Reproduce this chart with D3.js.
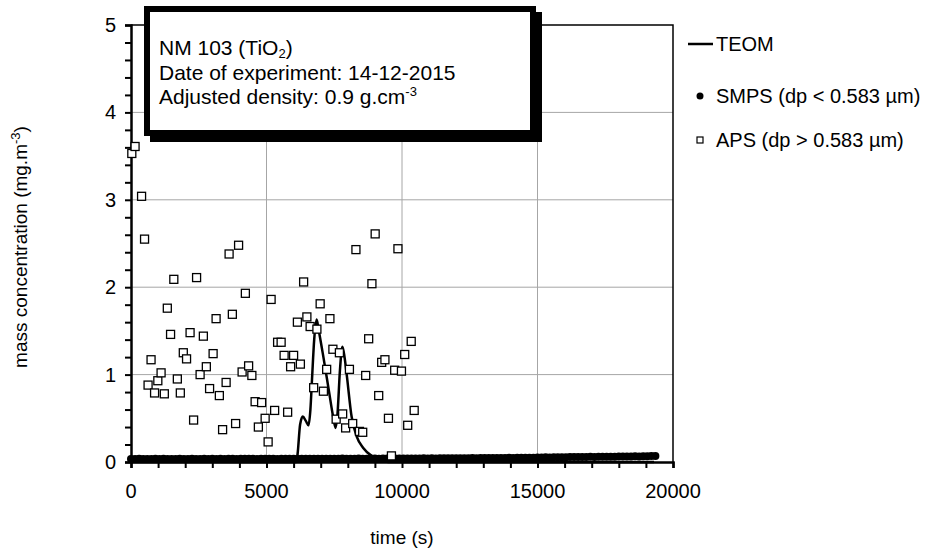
<!DOCTYPE html>
<html>
<head>
<meta charset="utf-8">
<script src="https://cdn.jsdelivr.net/npm/d3@7"></script>
<style>
body { margin: 0; background: #fff; }
text { font-family: "Liberation Sans", Arial, sans-serif; fill: #000; }
</style>
</head>
<body>
<div class="container"></div>
<script>
// chart size
var width  = 938;
var height = 553;
var margin = {left: 131, top: 25, right: 265, bottom: 91};

// TEOM mass concentration (smooth line)
var teomTime = [0, 6100, 6150, 6240, 6340, 6450, 6550, 6620, 6680, 6760, 6850, 6920, 7100, 7300, 7470, 7550, 7620, 7710, 7800, 7880, 7960, 8140, 8330, 8570, 8880, 9200, 9500, 19300];
var teomConc = [0, 0, 0.1, 0.43, 0.52, 0.47, 0.42, 0.6, 0.95, 1.4, 1.63, 1.52, 1.2, 0.82, 0.5, 0.39, 0.55, 1.05, 1.32, 1.2, 1.0, 0.52, 0.29, 0.16, 0.07, 0.02, 0, 0];

// SMPS (dp < 0.583 um), one value every 150 s
var smpsStep = 150;
var smpsConc = [
  0.035, 0.034, 0.036, 0.035, 0.035, 0.034, 0.036, 0.035, 0.036, 0.035, 0.034, 0.035, 0.036, 0.035, 0.035, 0.036, 0.034, 0.035, 0.036, 0.035,
  0.036, 0.035, 0.036, 0.035, 0.037, 0.036, 0.035, 0.036, 0.036, 0.037, 0.036, 0.035, 0.036, 0.037, 0.036, 0.036, 0.035, 0.037, 0.036, 0.036,
  0.037, 0.036, 0.037, 0.038, 0.037, 0.036, 0.037, 0.038, 0.037, 0.038, 0.037, 0.038, 0.039, 0.038, 0.037, 0.038, 0.039, 0.038, 0.038, 0.039,
  0.039, 0.038, 0.039, 0.040, 0.039, 0.040, 0.040, 0.041, 0.040, 0.041, 0.040, 0.041, 0.042, 0.041, 0.042, 0.041, 0.042, 0.043, 0.042, 0.043,
  0.043, 0.044, 0.043, 0.044, 0.045, 0.044, 0.045, 0.046, 0.045, 0.046, 0.047, 0.046, 0.047, 0.048, 0.047, 0.048, 0.049, 0.048, 0.049, 0.050,
  0.051, 0.052, 0.053, 0.052, 0.054, 0.055, 0.054, 0.055, 0.056, 0.057, 0.056, 0.057, 0.058, 0.059, 0.058, 0.059, 0.060, 0.061, 0.060, 0.061,
  0.062, 0.063, 0.062, 0.064, 0.065, 0.064, 0.066, 0.067, 0.068, 0.070
];

// APS (dp > 0.583 um)
var apsTime = [30, 150, 390, 500, 630, 740, 870, 990, 1110, 1230, 1340, 1460, 1580, 1710, 1820, 1930, 2050, 2180, 2310, 2420,
  2550, 2670, 2780, 2900, 3030, 3140, 3260, 3380, 3510, 3620, 3740, 3860, 3970, 4100, 4220, 4340, 4460, 4580, 4700, 4820,
  4950, 5060, 5170, 5300, 5410, 5540, 5650, 5780, 5890, 6000, 6140, 6250, 6370, 6490, 6610, 6740, 6860, 6980, 7100, 7220,
  7340, 7450, 7570, 7690, 7810, 7920, 8060, 8180, 8300, 8430, 8550, 8660, 8770, 8890, 9010, 9140, 9250, 9370, 9500, 9610,
  9730, 9850, 9980, 10100, 10210, 10340, 10450];
var apsConc = [3.53, 3.61, 3.04, 2.55, 0.88, 1.17, 0.79, 0.93, 1.02, 0.78, 1.76, 1.46, 2.09, 0.95, 0.79, 1.25, 1.18, 1.48, 0.48, 2.11,
  1.0, 1.44, 1.09, 0.84, 1.24, 1.64, 0.76, 0.37, 0.91, 2.38, 1.69, 0.44, 2.48, 1.03, 1.93, 1.10, 0.99, 0.69, 0.40, 0.68,
  0.50, 0.23, 1.86, 0.59, 1.37, 1.37, 1.22, 0.57, 1.09, 1.22, 1.60, 1.12, 2.06, 1.66, 1.55, 0.85, 1.52, 1.81, 0.81, 1.06,
  1.64, 1.29, 0.49, 1.25, 0.55, 0.39, 1.06, 0.44, 2.43, 0.35, 0.34, 0.99, 1.41, 2.04, 2.61, 0.76, 1.14, 1.17, 0.50, 0.07,
  1.05, 2.44, 1.04, 1.23, 0.42, 1.38, 0.59];

var xTicks = [0, 5000, 10000, 15000, 20000];
var yTicks = [0, 1, 2, 3, 4, 5];

var infoLines = ["NM 103 (TiO", "Date of experiment: 14-12-2015", "Adjusted density: 0.9 g.cm"];

var svg = d3.select(".container").append("svg")
  .attr("width", width)
  .attr("height", height);

var x = d3.scaleLinear().domain([0, 20000]).range([margin.left, width - margin.right]);
var y = d3.scaleLinear().domain([0, 5]).range([height - margin.bottom, margin.top]);

// gridlines
svg.append("g").selectAll("line").data([1, 2, 3, 4]).enter().append("line")
  .attr("x1", x(0)).attr("x2", x(20000))
  .attr("y1", d => y(d)).attr("y2", d => y(d))
  .attr("stroke", "#a6a6a6").attr("stroke-width", 1);
svg.append("g").selectAll("line").data([5000, 10000, 15000]).enter().append("line")
  .attr("x1", d => x(d)).attr("x2", d => x(d))
  .attr("y1", y(0)).attr("y2", y(5))
  .attr("stroke", "#a6a6a6").attr("stroke-width", 1);

// plot frame (top and right)
svg.append("path")
  .attr("d", "M" + x(0) + "," + y(5) + "H" + x(20000) + "V" + y(0))
  .attr("fill", "none").attr("stroke", "#000").attr("stroke-width", 1.5);

// axes
var xAxis = svg.append("g").attr("transform", "translate(0," + y(0) + ")")
  .call(d3.axisBottom(x).tickValues(d3.range(0, 20001, 1000)).tickSize(6).tickFormat(""));
var yAxis = svg.append("g").attr("transform", "translate(" + x(0) + ",0)")
  .call(d3.axisLeft(y).tickValues(d3.range(0, 5.01, 0.2)).tickSize(6).tickFormat(""));
[xAxis, yAxis].forEach(function(a) {
  a.select(".domain").attr("stroke", "#000").attr("stroke-width", 2.5);
  a.selectAll(".tick line").attr("stroke", "#000").attr("stroke-width", 2);
});

svg.append("g").selectAll("text").data(xTicks).enter().append("text")
  .attr("x", d => x(d)).attr("y", y(0) + 36)
  .attr("text-anchor", "middle").style("font-size", "20px")
  .text(d => d);
svg.append("g").selectAll("text").data(yTicks).enter().append("text")
  .attr("x", x(0) - 15).attr("y", d => y(d) + 7)
  .attr("text-anchor", "end").style("font-size", "20px")
  .text(d => d);

// TEOM
var teom = teomTime.map((t, i) => [t, teomConc[i]]);
svg.append("path")
  .datum(teom)
  .attr("fill", "none").attr("stroke", "#000").attr("stroke-width", 2.5)
  .attr("d", d3.line().x(d => x(d[0])).y(d => y(d[1])).curve(d3.curveMonotoneX));

// SMPS
svg.append("g").selectAll("circle").data(smpsConc).enter().append("circle")
  .attr("cx", (d, i) => x(i * smpsStep)).attr("cy", d => y(d))
  .attr("r", 4).attr("fill", "#000");

// APS
svg.append("g").selectAll("rect").data(apsConc).enter().append("rect")
  .attr("x", (d, i) => x(apsTime[i]) - 4).attr("y", d => y(d) - 4)
  .attr("width", 8).attr("height", 8)
  .attr("fill", "#fff").attr("stroke", "#000").attr("stroke-width", 1.3);

// info box with shadow
svg.append("rect").attr("x", 150).attr("y", 12).attr("width", 392).attr("height", 130).attr("fill", "#000");
svg.append("rect").attr("x", 147).attr("y", 9).attr("width", 386).attr("height", 124)
  .attr("fill", "#fff").attr("stroke", "#000").attr("stroke-width", 6);

var info = svg.append("g").style("font-size", "21px");
var t1 = info.append("text").attr("x", 159).attr("y", 55).text(infoLines[0]);
t1.append("tspan").attr("dy", 3).style("font-size", "13px").text("2");
t1.append("tspan").attr("dy", -3).text(")");
info.append("text").attr("x", 159).attr("y", 80).text(infoLines[1]);
var t3 = info.append("text").attr("x", 159).attr("y", 104).text(infoLines[2]);
t3.append("tspan").attr("dy", -8).style("font-size", "13px").text("-3");

// legend
var lg = svg.append("g").style("font-size", "20px");
lg.append("line").attr("x1", 688).attr("x2", 713).attr("y1", 44).attr("y2", 44)
  .attr("stroke", "#000").attr("stroke-width", 2.5);
lg.append("text").attr("x", 716).attr("y", 51).text("TEOM");
lg.append("circle").attr("cx", 700).attr("cy", 96).attr("r", 3.5).attr("fill", "#000");
lg.append("text").attr("x", 716).attr("y", 103).text("SMPS (dp < 0.583 µm)");
lg.append("rect").attr("x", 697).attr("y", 137).attr("width", 6).attr("height", 6)
  .attr("fill", "#fff").attr("stroke", "#000").attr("stroke-width", 1.2);
lg.append("text").attr("x", 716).attr("y", 147).text("APS (dp > 0.583 µm)");

// axis titles
var yl = svg.append("text")
  .attr("transform", "translate(27,247) rotate(-90)")
  .attr("text-anchor", "middle").style("font-size", "19px")
  .text("mass concentration (mg.m");
yl.append("tspan").attr("dy", -7).style("font-size", "13px").text("-3");
yl.append("tspan").attr("dy", 7).text(")");

svg.append("text").attr("x", (x(0) + x(20000)) / 2).attr("y", 544)
  .attr("text-anchor", "middle").style("font-size", "19px")
  .text("time (s)");
</script>
</body>
</html>
